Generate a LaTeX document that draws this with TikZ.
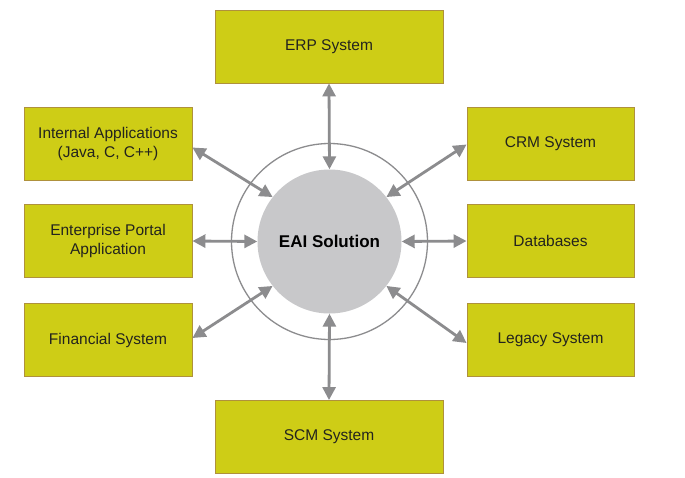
\documentclass[tikz,border=0pt]{standalone}
\usepackage{fontspec}
\setmainfont{Liberation Sans}
\usetikzlibrary{arrows.meta}
\definecolor{boxfill}{RGB}{206,205,22}
\definecolor{boxline}{RGB}{175,145,60}
\definecolor{arr}{RGB}{140,140,142}
\definecolor{hub}{RGB}{200,200,202}
\definecolor{txt}{RGB}{35,35,30}
\begin{document}
\begin{tikzpicture}[x=1pt,y=-1pt,
  sysbox/.style={draw=boxline,fill=boxfill,line width=0.9pt,inner sep=0pt,
    minimum height=73pt,align=center,text=txt,
    font=\fontsize{15.5}{19}\selectfont},
  widebox/.style={sysbox,minimum width=228pt},
  sidebox/.style={sysbox,minimum width=168pt},
  link/.style={draw=arr,line width=2.8pt,
    {Triangle[length=13pt,width=13pt]}-{Triangle[length=13pt,width=13pt]}}]
\useasboundingbox[fill=white] (0,0) rectangle (685,477);
% hub
\node[draw=arr,line width=1.3pt,circle,minimum size=196pt,inner sep=0pt] (ring) at (329.5,241.5) {};
\node[fill=hub,circle,minimum size=144pt,inner sep=0pt,
  font=\fontsize{17}{20}\selectfont\bfseries] (eai) at (329.5,241.5) {EAI Solution};
% boxes
\node[widebox] (erp) at (329,46.5) {ERP System};
\node[widebox] (scm) at (329,437) {SCM System};
\node[sidebox] (int) at (108,143.5) {Internal Applications\\(Java, C, C++)};
\node[sidebox] (ent) at (108,241) {Enterprise Portal\\Application};
\node[sidebox] (fin) at (108,340) {Financial System};
\node[sidebox,minimum width=167pt] (crm) at (550.5,143.5) {CRM System};
\node[sidebox,minimum width=167pt] (db) at (550.5,241) {Databases};
\node[sidebox,minimum width=167pt] (leg) at (550.5,340) {Legacy System};
% links
\draw[link] (erp.south) -- (eai.north);
\draw[link] (scm.north) -- (eai.south);
\draw[link] (ent.east) -- (eai.west);
\draw[link] (db.west) -- (eai.east);
\draw[link] ([yshift=-4pt]int.east) -- (eai.142);
\draw[link] ([yshift=-1pt]crm.west) -- (eai.38);
\draw[link] ([yshift=2pt]fin.east) -- (eai.218);
\draw[link] ([yshift=-3pt]leg.west) -- (eai.322);
\end{tikzpicture}
\end{document}
